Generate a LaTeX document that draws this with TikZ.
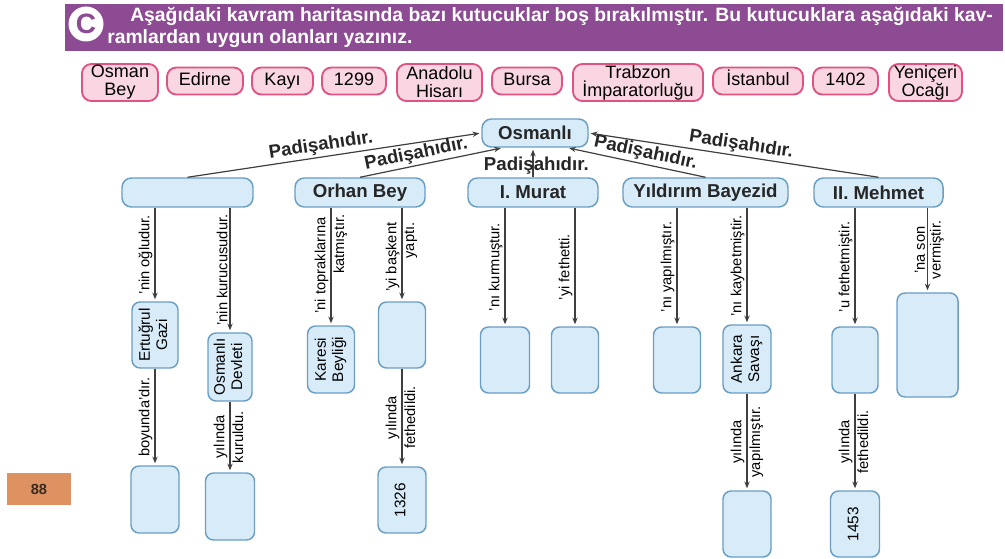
\documentclass[tikz,border=0pt]{standalone}
\usepackage{fontspec}
\setmainfont{Liberation Sans}
\usetikzlibrary{arrows.meta,calc}
\definecolor{bannerc}{HTML}{8C4B93}
\definecolor{pinkf}{HTML}{FAD6E3}
\definecolor{pinkd}{HTML}{E0527F}
\definecolor{bluef}{HTML}{D7EBF8}
\definecolor{blued}{HTML}{6A9EC3}
\definecolor{arrc}{HTML}{3F3F3F}
\definecolor{pagec}{HTML}{DE9262}
\definecolor{pagetxt}{HTML}{3A2A1E}
\newcommand{\rtxt}[1]{\rotatebox{90}{\begin{tabular}{@{}c@{}}#1\end{tabular}}}
\begin{document}
\begin{tikzpicture}[x=0.75pt,y=-0.75pt,
  wh/.style 2 args={minimum width=#1*0.75pt, minimum height=#2*0.75pt},
  pbox/.style={draw=pinkd, fill=pinkf, line width=1.4pt, rounded corners=7pt, inner sep=0pt, align=center, font=\fontsize{13.5}{13.5}\selectfont},
  pone/.style={pbox, text height=9.8pt, text depth=2.6pt},
  bbox/.style={draw=blued, fill=bluef, line width=1.1pt, rounded corners=7pt, inner sep=0pt, font=\fontsize{14}{16}\selectfont\bfseries, text=black!85},
  vbox/.style={draw=blued, fill=bluef, line width=1.1pt, rounded corners=6pt, inner sep=0pt, font=\fontsize{11.5}{13}\selectfont},
  arr/.style={draw=arrc, line width=0.9pt, -{Stealth[length=5pt,width=4pt]}, shorten >=1.5pt},
  lab/.style={font=\fontsize{11}{13}\selectfont, rotate=90, inner sep=1.5pt},
  L/.style={lab, anchor=south},
  R/.style={lab, anchor=north},
  pad/.style={font=\fontsize{14}{16}\selectfont\bfseries, sloped, above, inner sep=1.5pt, text=black!85},
  hdr/.style={anchor=base west, inner sep=0pt, text=white, font=\fontsize{14.5}{16}\selectfont\bfseries}
]
\useasboundingbox (0,0) rectangle (1005,559);

% banner
\node[fill=bannerc, wh={938}{47}, anchor=north west, inner sep=0pt] (banner) at (65,4) {};
\node[circle, fill=white, minimum size=35*0.75pt, inner sep=0pt, font=\fontsize{21}{21}\selectfont\bfseries, text=bannerc] (cc) at (86,24) {C};
\node[hdr] (h1) at (130,22) {Aşağıdaki kavram haritasında bazı kutucuklar boş bırakılmıştır. Bu kutucuklara aşağıdaki kav-};
\node[hdr] (h2) at (107,44) {ramlardan uygun olanları yazınız.};

% word bank
\node[pbox, wh={76}{37}] (w1) at (120,82.5) {Osman\\Bey};
\node[pone, wh={76}{27}] (w2) at (205,81) {Edirne};
\node[pone, wh={61}{27}] (w3) at (282.5,81) {Kayı};
\node[pone, wh={64}{27}] (w4) at (354,81) {1299};
\node[pbox, wh={85}{37}] (w5) at (439.5,82.5) {Anadolu\\Hisarı};
\node[pone, wh={70}{27}] (w6) at (527,81) {Bursa};
\node[pbox, wh={130}{37}] (w7) at (638,82.5) {Trabzon\\İmparatorluğu};
\node[pone, wh={90}{27}] (w8) at (758,81) {İstanbul};
\node[pone, wh={65}{27}] (w9) at (845.5,81) {1402};
\node[pbox, wh={73}{37}] (w10) at (925.5,82.5) {Yeniçeri\\Ocağı};

% page number
\node[fill=pagec, wh={64}{32}, inner sep=0pt, font=\fontsize{11}{11}\selectfont\bfseries, text=pagetxt] (pg) at (39,489) {88};

% main boxes
\node[bbox, wh={106}{28}] (osm) at (535,133) {Osmanlı};
\node[bbox, wh={131}{29}] (r1) at (187.5,192.5) {};
\node[bbox, wh={130}{29}] (r2) at (360,192.5) {Orhan Bey};
\node[bbox, wh={130}{29}] (r3) at (533,192.5) {I. Murat};
\node[bbox, wh={165}{29}] (r4) at (705.5,192.5) {Yıldırım Bayezid};
\node[bbox, wh={129}{29}] (r5) at (878.5,192.5) {II. Mehmet};

% lower boxes
\node[vbox, wh={46}{66}] (e1) at (155,335) {\rtxt{Ertuğrul\\Gazi}};
\node[vbox, wh={44}{68}] (e2) at (230,367) {\rtxt{Osmanlı\\Devleti}};
\node[vbox, wh={48}{67}] (e3) at (155,499.5) {};
\node[vbox, wh={49}{67}] (e4) at (230,506.5) {};
\node[vbox, wh={47}{67}] (o1) at (331,359.5) {\rtxt{Karesi\\Beyliği}};
\node[vbox, wh={47}{66}] (o2) at (402,335) {};
\node[vbox, wh={48}{66}] (o3) at (402,500) {\rtxt{1326}};
\node[vbox, wh={49}{66}] (m1) at (505,360) {};
\node[vbox, wh={47}{66}] (m2) at (575,360) {};
\node[vbox, wh={47}{66}] (y1) at (677,360) {};
\node[vbox, wh={48}{68}] (y2) at (747,359) {\rtxt{Ankara\\Savaşı}};
\node[vbox, wh={48}{66}] (y3) at (747,524) {};
\node[vbox, wh={46}{66}] (h1) at (855,360) {};
\node[vbox, wh={61}{104}] (h2) at (927.5,345) {};
\node[vbox, wh={49}{66}] (h3) at (855,524) {\rtxt{1453}};

% arrows to Osmanli
\draw[arr] (r1.north) -- node[pad, pos=0.46] {Padişahıdır.} (osm.west);
\draw[arr] (r2.north) -- node[pad, pos=0.41] {Padişahıdır.} ($(osm.south west)!0.2!(osm.south east)$);
\draw[arr] (r3.north) -- node[pos=0.4, inner sep=0pt, xshift=2.5pt, font=\fontsize{14}{16}\selectfont\bfseries, text=black!85] {Padişahıdır.} (r3.north |- osm.south);
\draw[arr] (r4.north) -- node[pad, pos=0.45] {Padişahıdır.} ($(osm.south west)!0.8!(osm.south east)$);
\draw[arr] (r5.north) -- node[pad, pos=0.48] {Padişahıdır.} (osm.east);

% column 1
\draw[arr] (r1.south -| e1.north) -- node[L] {'nin oğludur.} (e1.north);
\draw[arr] (e1.south) -- node[L] {boyunda'dır.} (e3.north);
\draw[arr] (r1.south -| e2.north) -- node[L] {'nin kurucusudur.} (e2.north);
\draw[arr] (e2.south) -- node[L] {yılında} node[R] {kuruldu.} (e4.north);
% column 2
\draw[arr] (r2.south -| o1.north) -- node[L, pos=0.49] {'ni topraklarına} node[R, pos=0.31] {katmıştır.} (o1.north);
\draw[arr] (r2.south -| o2.north) -- node[L, pos=0.53] {'yi başkent} node[R, pos=0.35] {yaptı.} (o2.north);
\draw[arr] (o2.south) -- node[L] {yılında} node[R] {fethedildi.} (o3.north);
% column 3
\draw[arr] (r3.south -| m1.north) -- node[L] {'nı kurmuştur.} (m1.north);
\draw[arr] (r3.south -| m2.north) -- node[L] {'yi fethetti.} (m2.north);
% column 4
\draw[arr] (r4.south -| y1.north) -- node[L] {'nı yapılmıştır.} (y1.north);
\draw[arr] (r4.south -| y2.north) -- node[L] {'nı kaybetmiştir.} (y2.north);
\draw[arr] (y2.south) -- node[L] {yılında} node[R] {yapılmıştır.} (y3.north);
% column 5
\draw[arr] (r5.south -| h1.north) -- node[L] {'u fethetmiştir.} (h1.north);
\draw[arr] (r5.south -| h2.north) -- node[L] {'na son} node[R] {vermiştir.} (h2.north);
\draw[arr] (h1.south) -- node[L] {yılında} node[R] {fethedildi.} (h3.north);
\end{tikzpicture}
\end{document}
